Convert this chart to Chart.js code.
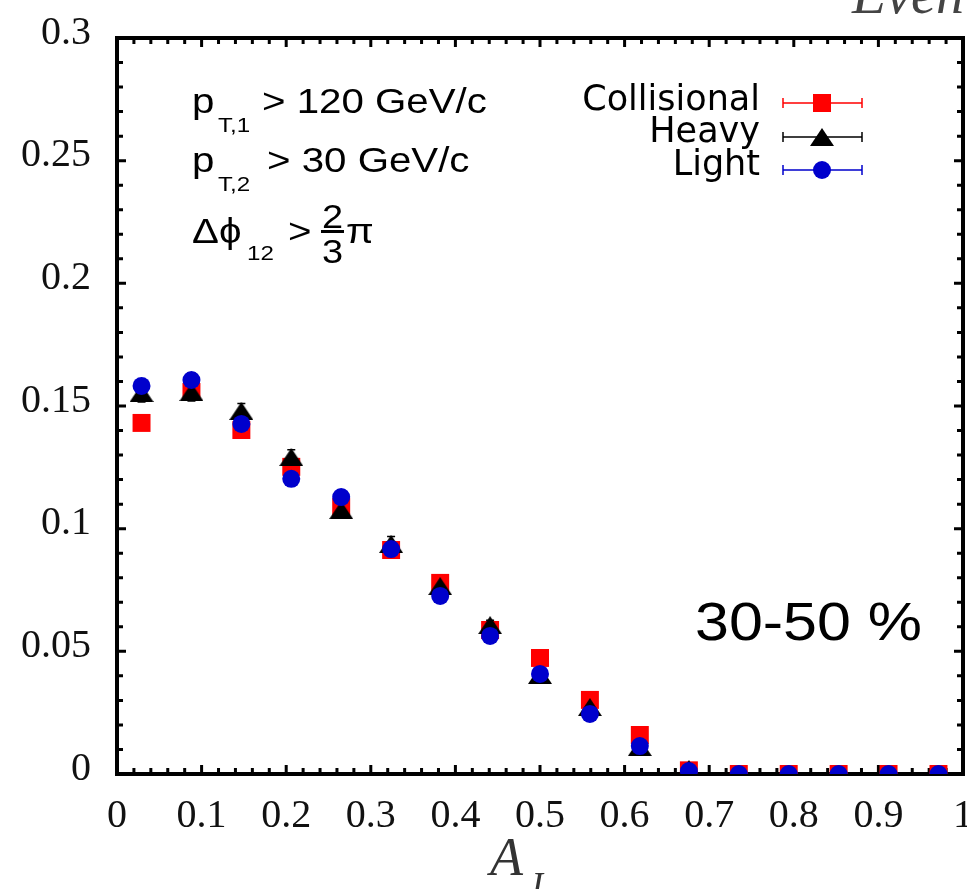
<!DOCTYPE html>
<html>
<head>
<meta charset="utf-8">
<script src="https://cdn.jsdelivr.net/npm/chart.js@4.4.0/dist/chart.umd.min.js"></script>
<style>
  body { margin: 0; background: #fff; }
  #wrap { width: 967px; height: 889px; }
</style>
</head>
<body>
<div id="wrap"><canvas id="aj-chart" width="967" height="889"></canvas></div>
<script>
// A_J bin centres
const aj = [0.029, 0.088, 0.147, 0.206, 0.265, 0.324, 0.382, 0.441, 0.5, 0.559, 0.618, 0.676, 0.735, 0.794, 0.853, 0.912, 0.971];

const collisional = [0.1431, 0.1557, 0.1402, 0.1252, 0.1088, 0.0913, 0.0779, 0.0587, 0.0473, 0.0302, 0.0159, 0.0015, 0, 0, 0, 0, 0];
const heavy = [0.1553, 0.1557, 0.1480, 0.1292, 0.1076, 0.0938, 0.0766, 0.0607, 0.0404, 0.0273, 0.0110, 0.0020, 0, 0, 0, 0, 0];
const light = [0.1582, 0.1606, 0.1427, 0.1203, 0.1129, 0.0917, 0.0726, 0.0563, 0.0408, 0.0245, 0.0114, 0.0012, 0, 0, 0, 0, 0];

const errCollisional = [0.003, 0.003, 0.003, 0.003, 0.003, 0.003, 0.002, 0.002, 0.002, 0.002, 0.001, 0.0005, 0, 0, 0, 0, 0];
const errHeavy = [0.0037, 0.0037, 0.003, 0.003, 0.003, 0.003, 0.002, 0.002, 0.002, 0.002, 0.001, 0.0005, 0, 0, 0, 0, 0];
const errLight = [0.003, 0.003, 0.003, 0.003, 0.003, 0.003, 0.002, 0.002, 0.002, 0.002, 0.001, 0.0005, 0, 0, 0, 0, 0];

const xTickLabels = ['0', '0.1', '0.2', '0.3', '0.4', '0.5', '0.6', '0.7', '0.8', '0.9', '1'];
const yTickLabels = ['0', '0.05', '0.1', '0.15', '0.2', '0.25', '0.3'];

const seriesNames = ['Collisional', 'Heavy', 'Light'];
const seriesColors = ['#ff0000', '#000000', '#0000cc'];

// linear scale that does not reserve room for overhanging end labels
class FlatLinearScale extends Chart.LinearScale {
  _calculatePadding() {
    this.paddingLeft = 0; this.paddingRight = 0;
    this.paddingTop = 0; this.paddingBottom = 0;
  }
}
FlatLinearScale.id = 'flatLinear';
FlatLinearScale.defaults = Chart.LinearScale.defaults;
Chart.register(FlatLinearScale);

// flat gnuplot-like triangle marker
const tri = document.createElement('canvas');
tri.width = 24; tri.height = 18;
const tctx = tri.getContext('2d');
tctx.fillStyle = '#000';
tctx.beginPath();
tctx.moveTo(12, 0); tctx.lineTo(24, 18); tctx.lineTo(0, 18);
tctx.closePath(); tctx.fill();

const pts = (ys) => aj.map((x, i) => ({ x, y: ys[i] }));
const errs = [errCollisional, errHeavy, errLight];

// stretched sans text, the original labels are wider than Liberation Sans
function stxt(ctx, s, x, y, size, sx) {
  ctx.save();
  ctx.translate(x, y);
  ctx.scale(sx || 1.15, 1);
  ctx.font = size + 'px "Liberation Sans", "DejaVu Sans"';
  ctx.textAlign = 'left';
  ctx.textBaseline = 'alphabetic';
  ctx.fillText(s, 0, 0);
  ctx.restore();
}

const framePlugin = {
  id: 'frame',
  beforeDatasetsDraw(chart) {
    const { ctx, chartArea: a, scales: { x, y } } = chart;
    ctx.save();
    ctx.strokeStyle = '#000';
    ctx.lineWidth = 4;
    ctx.strokeRect(a.left, a.top, a.right - a.left, a.bottom - a.top);
    ctx.lineWidth = 3;
    ctx.beginPath();
    for (let k = 0; k <= 50; k++) {
      const px = x.getPixelForValue(k * 0.02);
      const len = k % 5 === 0 ? 9 : 6;
      ctx.moveTo(px, a.bottom); ctx.lineTo(px, a.bottom - len);
      ctx.moveTo(px, a.top); ctx.lineTo(px, a.top + len);
    }
    for (let k = 0; k <= 30; k++) {
      const py = y.getPixelForValue(k * 0.01);
      const len = k % 5 === 0 ? 9 : 6;
      ctx.moveTo(a.left, py); ctx.lineTo(a.left + len, py);
      ctx.moveTo(a.right, py); ctx.lineTo(a.right - len, py);
    }
    ctx.stroke();

    // error bars (under the markers)
    ctx.lineWidth = 1.5;
    chart.data.datasets.forEach((ds, i) => {
      ctx.strokeStyle = seriesColors[i];
      ctx.beginPath();
      ds.data.forEach((p, j) => {
        const e = errs[i][j];
        if (!e) return;
        const px = x.getPixelForValue(p.x);
        const y1 = y.getPixelForValue(p.y - e);
        const y2 = y.getPixelForValue(p.y + e);
        ctx.moveTo(px, y1); ctx.lineTo(px, y2);
        ctx.moveTo(px - 4, y1); ctx.lineTo(px + 4, y1);
        ctx.moveTo(px - 4, y2); ctx.lineTo(px + 4, y2);
      });
      ctx.stroke();
    });
    ctx.restore();
  },
  afterDraw(chart) {
    const { ctx } = chart;
    ctx.save();
    ctx.fillStyle = '#000';

    // cuts
    stxt(ctx, 'p', 192, 113, 35);
    stxt(ctx, 'T,1', 218, 132, 21);
    stxt(ctx, '> 120 GeV/c', 262, 113, 35);
    stxt(ctx, 'p', 192, 172, 35);
    stxt(ctx, 'T,2', 218, 191, 21);
    stxt(ctx, '> 30 GeV/c', 267, 172, 35);
    stxt(ctx, '\u0394\u03d5', 192, 243, 35);
    stxt(ctx, '12', 247, 260, 21);
    stxt(ctx, '>', 288, 243, 35);
    stxt(ctx, '2', 322, 228, 33);
    ctx.fillRect(321, 230, 23, 3);
    stxt(ctx, '3', 322, 263, 33);
    stxt(ctx, '\u03c0', 346, 243, 35);

    // centrality
    stxt(ctx, '30-50 %', 695, 640, 53, 1.15);

    // legend
    ctx.font = '35px "DejaVu Sans"';
    ctx.textAlign = 'right';
    ctx.textBaseline = 'alphabetic';
    const rows = [103, 137, 170];
    const bases = [110, 142, 175];
    seriesNames.forEach((name, i) => {
      ctx.fillStyle = '#000';
      ctx.fillText(name, 760, bases[i]);
      const yy = rows[i];
      ctx.strokeStyle = seriesColors[i];
      ctx.lineWidth = 1.5;
      ctx.beginPath();
      ctx.moveTo(783, yy); ctx.lineTo(862, yy);
      ctx.moveTo(783, yy - 5); ctx.lineTo(783, yy + 5);
      ctx.moveTo(862, yy - 5); ctx.lineTo(862, yy + 5);
      ctx.stroke();
      ctx.fillStyle = seriesColors[i];
      if (i === 0) ctx.fillRect(813, yy - 9, 18, 18);
      if (i === 1) ctx.drawImage(tri, 822 - 12, yy - 9);
      if (i === 2) { ctx.beginPath(); ctx.arc(822, yy, 9, 0, Math.PI * 2); ctx.fill(); }
    });

    // axis title A_J
    ctx.fillStyle = '#333';
    ctx.textAlign = 'left';
    ctx.font = 'italic 54px "Liberation Serif"';
    ctx.fillText('A', 490, 875);
    ctx.font = 'italic 36px "Liberation Serif"';
    ctx.fillText('J', 527, 897);

    // clipped title at the top
    ctx.fillStyle = '#444';
    ctx.font = 'italic 56px "Liberation Serif"';
    ctx.fillText('Even', 852, 13);
    ctx.restore();
  }
};

new Chart(document.getElementById('aj-chart'), {
  type: 'scatter',
  data: {
    datasets: [
      { label: seriesNames[0], data: pts(collisional), pointStyle: 'rect', pointRadius: 12.7, pointHoverRadius: 12.7,
        backgroundColor: seriesColors[0], borderWidth: 0, order: 3 },
      { label: seriesNames[1], data: pts(heavy), pointStyle: tri, pointRadius: 12, pointHoverRadius: 12,
        backgroundColor: seriesColors[1], borderWidth: 0, order: 2 },
      { label: seriesNames[2], data: pts(light), pointStyle: 'circle', pointRadius: 9, pointHoverRadius: 9,
        backgroundColor: seriesColors[2], borderWidth: 0, order: 1 }
    ]
  },
  options: {
    responsive: false,
    animation: false,
    layout: { autoPadding: false, padding: { top: 38, right: 4, left: 0, bottom: 0 } },
    plugins: { legend: { display: false }, tooltip: { enabled: false } },
    scales: {
      x: {
        type: 'flatLinear', position: 'bottom', min: 0, max: 1,
        grid: { display: false, drawTicks: false },
        border: { display: false },
        ticks: {
          stepSize: 0.1, padding: 18, autoSkip: false, maxRotation: 0,
          color: '#111', font: { family: 'Liberation Serif', size: 40 },
          callback: (v, i) => xTickLabels[i]
        },
        afterFit: (s) => { s.height = 115; }
      },
      y: {
        type: 'flatLinear', position: 'left', min: 0, max: 0.3,
        grid: { display: false, drawTicks: false },
        border: { display: false },
        ticks: {
          stepSize: 0.05, padding: 26, autoSkip: false, labelOffset: -5,
          color: '#111', font: { family: 'Liberation Serif', size: 40 },
          callback: (v, i) => yTickLabels[i]
        },
        afterFit: (s) => { s.width = 117; }
      }
    }
  },
  plugins: [framePlugin]
});
</script>
</body>
</html>
